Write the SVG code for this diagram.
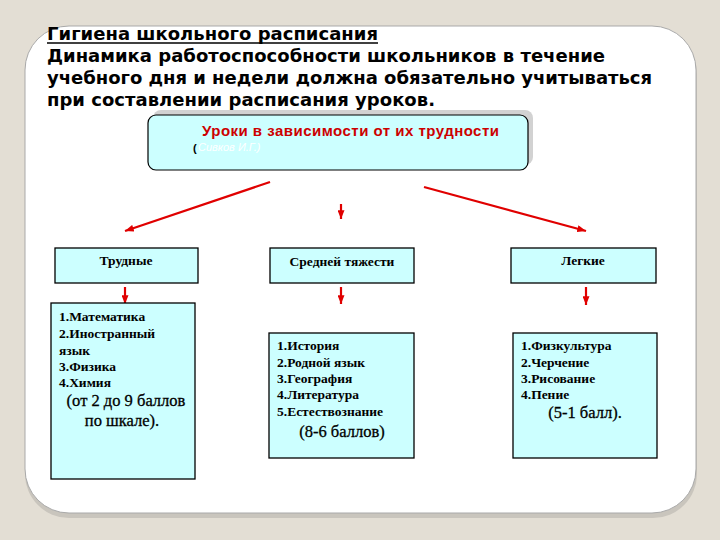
<svg xmlns="http://www.w3.org/2000/svg" width="720" height="540" viewBox="0 0 720 540">
<defs>
<marker id="ah" viewBox="0 0 10 8" refX="10" refY="4" markerWidth="9" markerHeight="7" markerUnits="userSpaceOnUse" orient="auto">
<path d="M0,0 L10,4 L0,8 z" fill="#e00000"/>
</marker>
</defs>
<style>
.head{font-weight:bold;font-size:18px;fill:#000}
.box{fill:#ccffff;stroke:#000;stroke-width:1.3}
.cat{font-weight:bold;font-size:13.5px;fill:#000;text-anchor:middle}
.item{font-weight:bold;font-size:13.5px;fill:#000}
.score{font-size:16.5px;fill:#000;text-anchor:middle;stroke:#000;stroke-width:0.3}
.conn{stroke:#e00000;stroke-width:2.2;fill:none;marker-end:url(#ah)}
</style>
<rect x="0" y="0" width="720" height="540" fill="#e3ded4"/>
<rect x="25" y="30" width="672" height="488" rx="44" ry="44" fill="#c9c5bd"/>
<rect x="25" y="26" width="671" height="487" rx="44" ry="44" fill="#ffffff" stroke="#a9a9a9" stroke-width="1"/>
<g id="heading" font-family="DejaVu Sans, sans-serif">
<text class="head" x="47" y="40" textLength="331" lengthAdjust="spacing">Гигиена школьного расписания</text>
<line x1="47" y1="43" x2="378" y2="43" stroke="#000" stroke-width="1.6"/>
<text class="head" x="47" y="62" textLength="558" lengthAdjust="spacing">Динамика работоспособности школьников в течение</text>
<text class="head" x="47" y="84" textLength="605" lengthAdjust="spacing">учебного дня и недели должна обязательно учитываться</text>
<text class="head" x="47" y="106" textLength="388" lengthAdjust="spacing">при составлении расписания уроков.</text>
</g>
<g id="top" font-family="Liberation Sans, Arial, sans-serif">
<rect x="153" y="110" width="380" height="55" rx="8" ry="8" fill="#d2d2d2"/>
<rect x="148" y="115" width="380" height="55" rx="8" ry="8" fill="#ccffff" stroke="#000" stroke-width="1.2"/>
<text x="202" y="136" font-weight="bold" font-size="15" fill="#cc0000" textLength="297" lengthAdjust="spacing">Уроки в зависимости от их трудности</text>
<text x="193" y="152" font-weight="bold" font-size="11" fill="#000">(</text>
<text x="198" y="151" font-style="italic" font-size="11" fill="#ffffff">Сивков И.Г.)</text>
</g>
<g id="connectors">
<line class="conn" x1="270" y1="182" x2="125" y2="231"/>
<line class="conn" x1="341" y1="204" x2="341" y2="219"/>
<line class="conn" x1="424" y1="187" x2="586" y2="231"/>
<line class="conn" x1="125" y1="287" x2="125" y2="304"/>
<line class="conn" x1="341" y1="287" x2="341" y2="304"/>
<line class="conn" x1="586" y1="287" x2="586" y2="305"/>
</g>
<g id="cat-hard" font-family="Liberation Serif, Times New Roman, serif">
<rect class="box" x="55" y="248" width="143" height="35"/>
<text class="cat" x="126" y="265">Трудные</text>
</g>
<g id="cat-medium" font-family="Liberation Serif, Times New Roman, serif">
<rect class="box" x="270" y="248" width="144" height="35"/>
<text class="cat" x="342" y="266">Средней тяжести</text>
</g>
<g id="cat-easy" font-family="Liberation Serif, Times New Roman, serif">
<rect class="box" x="511" y="248" width="145" height="35"/>
<text class="cat" x="583" y="265">Легкие</text>
</g>
<g id="list-hard" font-family="Liberation Serif, Times New Roman, serif">
<rect class="box" x="51" y="303" width="144" height="176"/>
<text class="item" x="59" y="321">1.Математика</text>
<text class="item" x="59" y="338">2.Иностранный</text>
<text class="item" x="59" y="355">язык</text>
<text class="item" x="59" y="371">3.Физика</text>
<text class="item" x="59" y="387">4.Химия</text>
<text class="score" x="126" y="406">(от 2 до 9 баллов</text>
<text class="score" x="122" y="426">по шкале).</text>
</g>
<g id="list-medium" font-family="Liberation Serif, Times New Roman, serif">
<rect class="box" x="269" y="333" width="145" height="125"/>
<text class="item" x="277" y="350">1.История</text>
<text class="item" x="277" y="367">2.Родной язык</text>
<text class="item" x="277" y="383">3.География</text>
<text class="item" x="277" y="399">4.Литература</text>
<text class="item" x="277" y="416">5.Естествознание</text>
<text class="score" x="342" y="437">(8-6 баллов)</text>
</g>
<g id="list-easy" font-family="Liberation Serif, Times New Roman, serif">
<rect class="box" x="513" y="333" width="144" height="125"/>
<text class="item" x="521" y="350">1.Физкультура</text>
<text class="item" x="521" y="367">2.Черчение</text>
<text class="item" x="521" y="383">3.Рисование</text>
<text class="item" x="521" y="399">4.Пение</text>
<text class="score" x="585" y="418">(5-1 балл).</text>
</g>
</svg>
